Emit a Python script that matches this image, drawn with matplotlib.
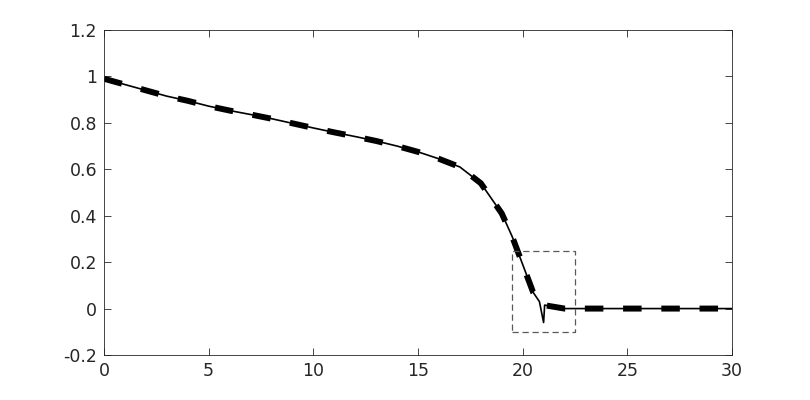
import numpy as np
import matplotlib
matplotlib.use("Agg")
import matplotlib.pyplot as plt

# saturation-like profile
x_ref = [0, 1, 2, 3, 4, 5, 6, 7, 8, 9, 10, 11, 12, 13, 14, 15, 16, 17, 18,
         19, 19.5, 20, 20.5, 21, 22, 30]
y_ref = [0.99, 0.965, 0.94, 0.915, 0.895, 0.872, 0.853, 0.836, 0.818, 0.798,
         0.778, 0.759, 0.741, 0.722, 0.70, 0.675, 0.645, 0.61, 0.54,
         0.41, 0.31, 0.19, 0.07, 0.015, 0.0, 0.0]

# numerical solution with small undershoot at the front
x_num = [0, 1, 2, 3, 4, 5, 6, 7, 8, 9, 10, 11, 12, 13, 14, 15, 16, 17, 18,
         19, 19.5, 20, 20.5, 20.8, 21.0, 21.05, 22, 30]
y_num = [0.99, 0.965, 0.94, 0.915, 0.895, 0.872, 0.853, 0.836, 0.818, 0.798,
         0.778, 0.759, 0.741, 0.722, 0.70, 0.675, 0.645, 0.61, 0.54,
         0.41, 0.31, 0.19, 0.07, 0.03, -0.06, 0.015, 0.0, 0.0]

# zoom box
box_x = [19.5, 22.5, 22.5, 19.5, 19.5]
box_y = [-0.1, -0.1, 0.25, 0.25, -0.1]

fig = plt.figure(figsize=(8.1, 4.0), dpi=100)
ax = fig.add_axes([0.1284, 0.1125, 0.7753, 0.8125])

ax.plot(x_ref, y_ref, color="k", linewidth=4.3, dashes=(3.1, 3.3))
ax.plot(x_num, y_num, color="k", linewidth=1.2)
ax.plot(box_x, box_y, color=(0.35, 0.35, 0.35), linewidth=0.9, dashes=(5, 3))

ax.set_xlim(0, 30)
ax.set_ylim(-0.2, 1.2)
ax.set_xticks([0, 5, 10, 15, 20, 25, 30])
ax.set_yticks(np.round(np.arange(-0.2, 1.21, 0.2), 1))
ax.set_yticklabels(["-0.2", "0", "0.2", "0.4", "0.6", "0.8", "1", "1.2"])

c = (0.15, 0.15, 0.15)
for s in ax.spines.values():
    s.set_color(c)
    s.set_linewidth(0.6)
ax.tick_params(direction="in", top=True, right=True, colors=c,
               labelsize=12.5, length=5, width=0.6, pad=5)

fig.savefig("out.png", dpi=100)
